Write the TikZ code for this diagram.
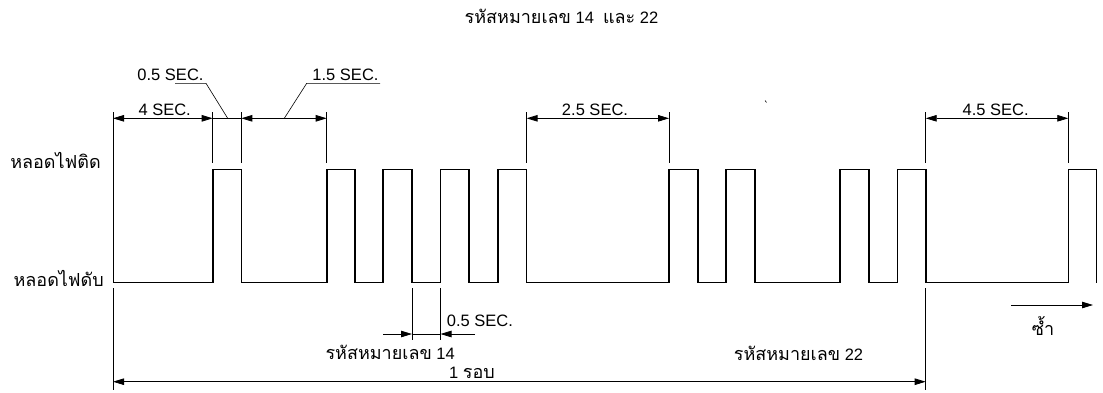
\documentclass[tikz,border=0pt]{standalone}
\usepackage{fontspec}
\setmainfont{Liberation Sans}
\newfontfamily\thaifont[Script=Thai,Scale=1.09]{Loma}
\usetikzlibrary{arrows.meta}
\newcommand\dfs{\fontsize{16.5}{18}\selectfont}
\begin{document}
\begin{tikzpicture}[x=1pt,y=-1pt,
  wave/.style={line width=1.6pt, line join=miter},
  ext/.style={line width=0.6pt},
  dim/.style={line width=0.8pt},
  >={Triangle[length=11pt,width=6.5pt]},
  lbl/.style={inner sep=0pt, font=\dfs}]
\useasboundingbox (0,0) rectangle (1103,392);

% texts
\node[lbl,anchor=base] (title) at (561.5,23.3) {{\thaifont รหัสหมายเลข} 14\ \ {\thaifont และ} 22};
\node[lbl,anchor=base east] (on) at (101,168.3) {\thaifont หลอดไฟติด};
\node[lbl,anchor=base east] (off) at (104,286.7) {\thaifont หลอดไฟดับ};

% waveform
\def\L{282.5}\def\H{169.5}
\draw[wave] (113,\L)
  -- (212.7,\L) -- (212.7,\H) -- (241.3,\H) -- (241.3,\L)
  -- (326.7,\L) -- (326.7,\H) -- (355.2,\H) -- (355.2,\L)
  -- (383.2,\L) -- (383.2,\H) -- (412,\H) -- (412,\L)
  -- (440.5,\L) -- (440.5,\H) -- (469,\H) -- (469,\L)
  -- (497.8,\L) -- (497.8,\H) -- (526.6,\H) -- (526.6,\L)
  -- (669,\L) -- (669,\H) -- (697.7,\H) -- (697.7,\L)
  -- (726,\L) -- (726,\H) -- (754.8,\H) -- (754.8,\L)
  -- (840,\L) -- (840,\H) -- (869,\H) -- (869,\L)
  -- (897.3,\L) -- (897.3,\H) -- (925.7,\H) -- (925.7,\L)
  -- (1068.3,\L) -- (1068.3,\H) -- (1096.5,\H) -- (1096.5,\L);

% extension lines (top)
\draw[ext] (113,112) -- (113,\L);
\foreach \x in {212.7,241.3,326.7,526.6,669,925.7,1068.3}
  \draw[ext] (\x,112) -- (\x,163);
% extension lines (bottom)
\draw[ext] (113,288) -- (113,390);
\draw[ext] (925.7,288) -- (925.7,390);
\draw[ext] (412,288) -- (412,340);
\draw[ext] (440.5,288) -- (440.5,340);

% top dimensions
\coordinate (a0) at (113,118.3);
\coordinate (a1) at (212.7,118.3);
\coordinate (a2) at (241.3,118.3);
\coordinate (a3) at (326.7,118.3);
\coordinate (b0) at (526.6,118.3);
\coordinate (b1) at (669,118.3);
\coordinate (c0) at (925.7,118.3);
\coordinate (c1) at (1068.3,118.3);
\draw[dim,<->] (a0) -- (a1);
\draw[dim] (a1) -- (a2);
\draw[dim,<->] (a2) -- (a3);
\draw[dim,<->] (b0) -- (b1);
\draw[dim,<->] (c0) -- (c1);
\node[lbl,anchor=base] (s4) at (164.7,115) {4 SEC.};
\node[lbl,anchor=base] (s25) at (595,115) {2.5 SEC.};
\node[lbl,anchor=base] (s45) at (995.7,115) {4.5 SEC.};

% leaders
\node[lbl,anchor=base] (s05) at (170.5,80) {0.5 SEC.};
\coordinate (u1a) at (175,83.3);
\coordinate (u1b) at (206,83.3);
\coordinate (u1c) at (227.7,118.3);
\draw[ext] (u1a) -- (u1b) -- (u1c);
\node[lbl,anchor=base] (s15) at (345.5,80) {1.5 SEC.};
\coordinate (u2a) at (380,83.3);
\coordinate (u2b) at (306.7,83.3);
\coordinate (u2c) at (284.3,118.3);
\draw[ext] (u2a) -- (u2b) -- (u2c);

% stray mark
\draw[line width=0.6pt] (765,100.5) -- (766.5,102.5);

% bottom 0.5 sec
\coordinate (d0) at (383,334);
\coordinate (d1) at (412,334);
\coordinate (d2) at (440.5,334);
\coordinate (d3) at (475,334);
\draw[dim,->] (d0) -- (d1);
\draw[dim] (d1) -- (d2);
\draw[dim,->] (d3) -- (d2);
\node[lbl,anchor=base west] (s05b) at (446.7,326.7) {0.5 SEC.};

\node[lbl,anchor=base east] (c14) at (455,359.3) {{\thaifont รหัสหมายเลข} 14};
\node[lbl,anchor=base] (cyc) at (472,378.3) {1 {\thaifont รอบ}};
\node[lbl,anchor=base east] (c22) at (863.3,360.7) {{\thaifont รหัสหมายเลข} 22};

\coordinate (e0) at (113,381.7);
\coordinate (e1) at (925.7,381.7);
\draw[dim,<->] (e0) -- (e1);

\coordinate (r0) at (1011,305);
\coordinate (r1) at (1093,305);
\draw[dim,->] (r0) -- (r1);
\node[lbl,anchor=base] (rep) at (1043,335) {\thaifont ซ้ำ};
\end{tikzpicture}
\end{document}
